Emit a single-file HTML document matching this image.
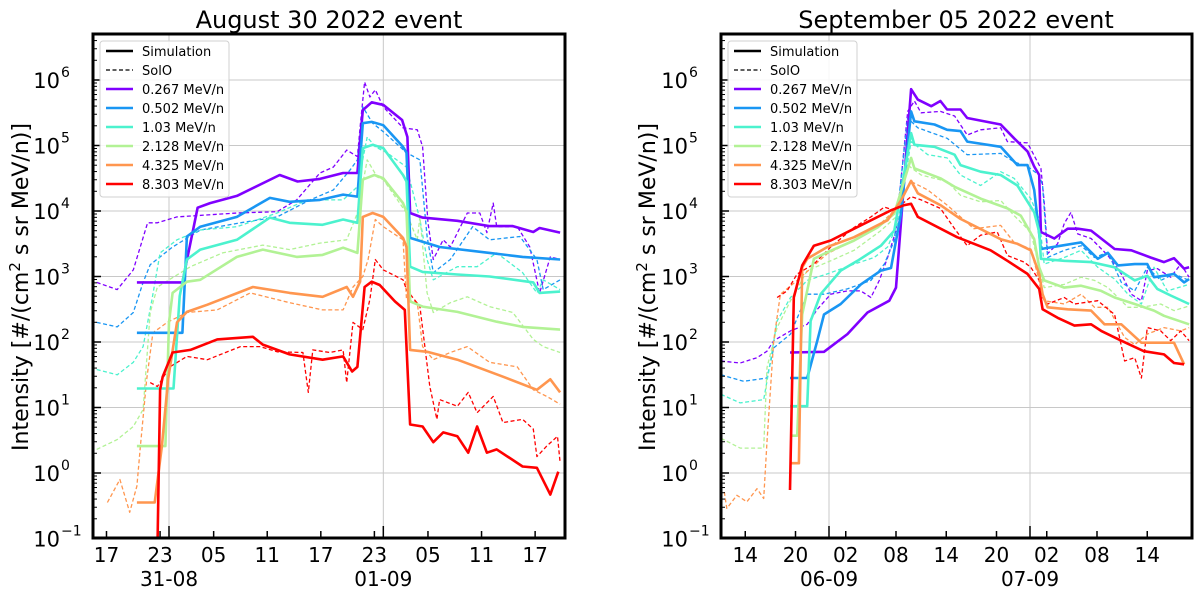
<!DOCTYPE html>
<html><head><meta charset="utf-8"><style>
html,body{margin:0;padding:0;background:#fff;}
svg{display:block;font-family:"DejaVu Sans","Liberation Sans",sans-serif;}
</style></head><body>
<svg id="fig" width="1200" height="599" viewBox="0 0 1200 599" xmlns="http://www.w3.org/2000/svg"></svg>
<script>
// ---------- data (hours relative to 00:00 of first labelled day, log10 intensity) ----------
const energyLabels = ["0.267 MeV/n","0.502 MeV/n","1.03 MeV/n","2.128 MeV/n","4.325 MeV/n","8.303 MeV/n"];
const colors = ["#8000ff","#1996f3","#4cf2ce","#b2f295","#ff964f","#ff0000"];
const yTickExps = [-1,0,1,2,3,4,5,6];
const augTickHours = [-7,-1,5,11,17,23,29,35,41];
const augTickLabels = ["17","23","05","11","17","23","05","11","17"];
const augDayHours = [0,24];
const augDayLabels = ["31-08","01-09"];
const sepTickHours = [-10,-4,2,8,14,20,26,32,38];
const sepTickLabels = ["14","20","02","08","14","20","02","08","14"];
const sepDayHours = [0,24];
const sepDayLabels = ["06-09","07-09"];

// August simulation
const augSim0 = [[-3.6,2.91],[1.5,2.91],[3.2,4.05],[4.6,4.12],[7.6,4.23],[12.4,4.55],[14.4,4.45],[16.9,4.49],[19.5,4.58],[21.1,4.58],[21.7,5.54],[22.7,5.66],[24.0,5.62],[26.1,5.39],[26.7,5.13],[27.0,3.97],[28.4,3.90],[32.3,3.85],[35.9,3.77],[38.5,3.77],[40.8,3.68],[41.5,3.74],[43.8,3.67]];
const augSim1 = [[-3.6,2.14],[1.5,2.14],[2.0,3.61],[3.5,3.76],[7.6,3.91],[11.3,4.20],[13.5,4.14],[16.9,4.17],[19.5,4.25],[21.1,4.22],[21.7,5.34],[22.7,5.36],[24,5.31],[26.2,4.98],[26.6,4.89],[27,3.59],[30.3,3.45],[35.9,3.36],[39.6,3.30],[43.8,3.26]];
const augSim2 = [[-3.6,1.29],[0.5,1.29],[1.2,2.7],[2,3.26],[3.5,3.41],[7.6,3.56],[11.3,3.90],[13.5,3.82],[17.2,3.79],[19.5,3.87],[21.1,3.82],[21.7,4.96],[22.8,5.01],[24,4.96],[26.2,4.55],[26.6,4.45],[27,3.15],[28.4,3.07],[32.3,3.03],[35.9,3.00],[40.8,2.91],[41.5,2.75],[43.8,2.77]];
const augSim3 = [[-3.6,0.41],[-0.4,0.41],[0.0,2.3],[0.4,2.75],[2,2.92],[3.5,2.95],[7.6,3.30],[10.5,3.41],[14.3,3.30],[17.2,3.33],[19.5,3.44],[21.1,3.36],[21.7,4.48],[23,4.55],[24,4.50],[26.2,4.12],[26.6,3.99],[27,2.62],[28.4,2.54],[32.3,2.46],[36.7,2.31],[39.6,2.23],[43.8,2.19]];
const augSim4 = [[-3.6,-0.45],[-1.6,-0.45],[-0.8,0.41],[-0.1,1.43],[0.9,2.30],[2,2.46],[4.3,2.57],[9.4,2.84],[13.5,2.75],[17.2,2.69],[19.9,2.84],[20.6,2.69],[21.4,2.92],[21.7,3.91],[22.8,3.97],[24,3.91],[26.2,3.59],[26.6,3.45],[27,1.88],[28.9,1.85],[32.3,1.73],[37.4,1.47],[41.2,1.27],[42.7,1.43],[43.8,1.23]];
const augSim5 = [[-1.3,-1.2],[-1.0,1.27],[-0.7,1.47],[0.4,1.84],[2.4,1.88],[5.4,2.04],[9.4,2.08],[10.5,1.96],[13.5,1.81],[17.2,1.73],[19.5,1.78],[20.5,1.55],[21.1,1.62],[21.9,2.84],[22.7,2.92],[23.6,2.87],[25.3,2.62],[26.4,2.49],[27,0.74],[28.4,0.71],[29.6,0.47],[30.7,0.62],[32.3,0.56],[33.5,0.31],[34.5,0.71],[35.6,0.31],[36.7,0.36],[39.6,0.10],[41.2,0.08],[42.7,-0.33],[43.6,0.02]];
// August SolO
const augObs0 = [[-8.1,2.91],[-5.8,2.80],[-4.0,3.10],[-2.4,3.82],[-1.3,3.82],[0.9,3.91],[7.6,3.97],[12.1,3.99],[14.3,4.17],[16.9,4.58],[18.4,4.67],[19.9,4.93],[21.1,4.83],[21.4,5.28],[21.9,5.97],[22.5,5.74],[23.1,5.85],[24,5.59],[26.2,5.27],[27.8,5.24],[28.4,4.98],[29,3.82],[29.6,3.26],[30.7,3.56],[31.5,3.45],[33.4,3.97],[34.8,3.97],[35.6,3.67],[36.3,4.12],[36.7,3.76],[39,3.76],[40.4,3.45],[41.5,2.75],[42.7,3.30],[43.8,3.26]];
const augObs1 = [[-8.1,2.30],[-5.8,2.23],[-4,2.45],[-2.9,2.91],[-2.1,3.18],[0.4,3.45],[3.5,3.71],[8,3.82],[12.1,3.91],[15.8,4.17],[18.4,4.32],[20.3,4.63],[21.1,4.78],[21.7,5.59],[22.8,5.34],[24,5.21],[26.6,4.89],[28.1,4.78],[28.9,3.61],[29.6,3.06],[31.5,3.26],[34,3.76],[35.9,3.56],[39.3,3.61],[41.2,3.26],[41.9,2.80],[43.8,2.95]];
const augObs2 = [[-8.1,1.58],[-5.8,1.50],[-4,1.69],[-2.9,1.93],[-1.9,2.65],[-1,3.36],[0.9,3.56],[3.5,3.71],[7.6,3.76],[12.1,3.97],[15.5,4.17],[19.5,4.17],[21.1,4.37],[22.2,5.13],[23.1,4.98],[24.4,4.89],[26.6,4.67],[28.1,3.87],[28.9,3.26],[29.6,2.95],[32.3,3.15],[34.5,3.15],[36.7,3.36],[39.6,3.06],[41.2,2.75],[41.9,2.95],[43.8,2.80]];
const augObs3 = [[-8.1,0.36],[-5.8,0.51],[-4,0.71],[-2.9,0.97],[-2.1,2.45],[-1.3,2.84],[2.4,3.15],[6,3.36],[10.5,3.48],[13.5,3.41],[16.9,3.51],[19.9,3.56],[21.1,3.97],[22.2,4.78],[23.3,4.52],[24,4.48],[26.6,3.97],[27.8,3.56],[28.1,3.91],[28.9,2.75],[29.6,2.45],[31.5,2.60],[33.4,2.69],[35.9,2.54],[38.5,2.45],[40.8,2.04],[41.9,1.93],[43.8,1.84]];
const augObs4 = [[-6.9,-0.45],[-5.5,-0.10],[-4.4,-0.6],[-3.6,-0.2],[-3.2,0.41],[-2.5,1.43],[-1.8,2.14],[-0.2,2.30],[2,2.45],[5.4,2.49],[9.1,2.75],[13.5,2.60],[17.2,2.49],[19.5,2.49],[20.6,2.84],[21.7,3.0],[22.3,3.26],[23.1,3.87],[24,3.76],[26.2,3.56],[26.6,2.65],[27.8,2.60],[28.4,1.93],[29.6,1.73],[31.5,1.84],[33.4,1.93],[35.9,1.69],[39,1.62],[40.8,1.27],[42.3,1.17],[43.8,1.05]];
const augObs5 = [[-2.1,1.38],[-1.3,1.32],[0.1,1.62],[2,1.78],[4.3,1.73],[8,1.93],[10.2,1.93],[12.1,1.85],[15,1.84],[15.6,1.23],[16.1,1.88],[18,1.84],[19.5,1.88],[19.9,1.38],[20.6,2.30],[21.7,2.19],[22.5,2.65],[22.8,2.95],[23.1,3.26],[24,3.10],[26.2,2.95],[26.6,2.80],[28.1,2.54],[29.2,1.32],[30,0.82],[30.3,1.12],[32.3,1.02],[33.5,1.23],[34.5,0.92],[36.3,1.17],[37.4,0.77],[39.6,0.82],[40.8,0.67],[41.2,0.25],[42.3,0.41],[43.5,0.56],[43.8,0.16]];
// September simulation
const sepSim0 = [[-4.66,1.84],[-0.6,1.85],[2.2,2.12],[4.6,2.45],[7.2,2.63],[8,2.83],[9.8,5.86],[10.6,5.70],[12.2,5.60],[13.3,5.68],[14.1,5.55],[15.7,5.55],[16.5,5.42],[20.5,5.32],[22.1,5.11],[23.7,4.91],[24.5,4.68],[25.1,4.55],[25.3,3.68],[26.9,3.58],[28.5,3.73],[29.7,3.73],[31.3,3.70],[34.1,3.42],[36.1,3.40],[38.4,3.29],[40,3.22],[41.2,3.28],[42.4,3.12],[43,3.14]];
const sepSim1 = [[-4.66,1.45],[-2.6,1.45],[-1.4,2.02],[-0.6,2.42],[1.4,2.58],[3.8,2.88],[6.2,3.09],[7.4,3.13],[8.6,3.96],[9.8,5.52],[10.2,5.37],[12.6,5.32],[14.1,5.24],[15.7,5.22],[16.5,5.06],[20.5,4.98],[22.5,4.70],[23.7,4.70],[24.5,4.32],[25.3,3.42],[27.7,3.47],[30.1,3.52],[32.1,3.27],[33.3,3.36],[34.5,3.17],[36.5,3.19],[38,3.19],[38.8,2.99],[40,3.01],[41.2,3.04],[42.4,2.91],[43,2.96]];
const sepSim2 = [[-4.66,1.02],[-2.6,1.02],[-2.2,2.32],[-1,2.73],[1.4,3.09],[3.4,3.24],[6.2,3.47],[7.8,3.70],[9.8,5.19],[10.2,5.01],[12.6,4.98],[15,4.86],[15.7,4.70],[18.1,4.60],[20.5,4.55],[22.5,4.39],[24.5,3.98],[25.1,3.68],[25.3,3.27],[28.1,3.24],[31.3,3.22],[34.1,3.14],[36.5,2.94],[38,3.01],[39.2,2.81],[40.8,2.71],[43,2.58]];
const sepSim3 = [[-4.66,0.57],[-3.8,0.57],[-3.2,2.42],[-1.8,3.27],[-0.2,3.37],[3.0,3.55],[5.8,3.75],[7.8,3.96],[9.8,4.81],[10.2,4.65],[13.3,4.50],[15,4.37],[18.1,4.19],[21.3,4.04],[22.9,3.93],[24.5,3.57],[25.1,3.14],[25.7,2.94],[28.1,2.83],[30.1,2.86],[32.5,2.78],[34.1,2.68],[36.5,2.58],[38.8,2.48],[40,2.40],[43,2.27]];
const sepSim4 = [[-4.66,0.15],[-3.6,0.15],[-3.2,3.14],[-2.6,3.27],[-0.2,3.45],[3.0,3.60],[7,3.86],[8.6,4.16],[9.8,4.46],[10.6,4.27],[13.3,4.09],[15.7,3.88],[20.5,3.57],[22.5,3.50],[24.1,3.40],[25.1,3.04],[25.5,2.73],[26.1,2.53],[28.5,2.50],[31.3,2.48],[32.9,2.27],[34.9,2.27],[37.3,1.99],[41.2,1.99],[42.4,1.66]];
const sepSim5 = [[-4.66,-0.26],[-4.2,2.68],[-3.2,3.17],[-1.8,3.47],[0.2,3.55],[3.0,3.73],[7.4,4.01],[9,4.09],[9.8,4.11],[10.6,3.91],[15.3,3.60],[19.3,3.40],[21.3,3.24],[23.7,3.04],[25.1,2.81],[25.5,2.50],[27.3,2.37],[29.3,2.25],[31.3,2.27],[32.5,2.17],[34.9,2.02],[37.6,1.86],[40,1.81],[41.2,1.68],[42.4,1.66]];
// September SolO
const sepObs0 = [[-12.9,1.71],[-10.6,1.68],[-8.6,1.76],[-7.4,1.86],[-6.6,2.02],[-4.6,2.17],[-2.6,2.27],[-1.4,2.50],[0.2,2.73],[2.2,2.78],[3.8,2.78],[5,2.68],[6,2.94],[7,3.29],[8,3.70],[9.4,5.52],[10.2,5.68],[11,5.50],[13.3,5.52],[15,5.45],[16.5,5.16],[18.1,5.24],[20.5,5.27],[21.3,5.06],[23.7,5.04],[25.3,4.65],[25.7,4.14],[26.1,3.35],[27.3,3.50],[28.1,3.81],[28.9,3.98],[29.7,3.65],[31.3,3.58],[33.3,3.32],[34.9,3.04],[36.1,2.73],[37.3,2.63],[38,3.09],[39.2,3.12],[40.8,2.99],[42,3.19],[43,2.99]];
const sepObs1 = [[-12.9,1.50],[-10.2,1.40],[-7.4,1.45],[-6.6,1.91],[-4.6,2.12],[-2.6,2.73],[-0.6,2.73],[2.2,2.81],[5,2.94],[6.6,3.19],[7.8,3.55],[9.4,5.42],[10.6,5.27],[14.1,5.11],[16.5,4.86],[20.5,4.88],[22.1,4.75],[23.7,4.68],[25.1,4.55],[25.5,4.39],[26.1,3.29],[28.1,3.40],[30.1,3.47],[31.7,3.29],[33.3,3.37],[34.9,2.91],[36.5,2.78],[38,3.14],[39.6,2.94],[41.2,3.04],[43,2.94]];
const sepObs2 = [[-12.9,1.20],[-10.6,1.07],[-7.8,1.12],[-7.2,1.55],[-6.2,2.32],[-4.6,2.68],[-2.6,2.94],[-0.2,3.04],[3,3.19],[5.4,3.29],[7,3.45],[8.2,3.81],[9.8,5.06],[11.8,4.86],[14.1,4.81],[15.7,4.55],[18.1,4.39],[20.5,4.60],[22.1,4.50],[24.1,4.19],[25.1,3.88],[25.7,3.19],[28.1,3.29],[30.1,3.40],[32.1,3.14],[34.1,2.96],[35.7,2.73],[37.3,2.58],[38.8,3.14],[40.4,2.78],[43,2.88]];
const sepObs3 = [[-12.9,0.53],[-10.6,0.38],[-7.8,0.38],[-7.4,1.61],[-6.2,2.22],[-4.6,2.63],[-2.6,3.09],[0.2,3.24],[3,3.40],[6.2,3.70],[8,3.91],[9.4,4.70],[11,4.55],[14.1,4.45],[15.7,4.24],[18.1,4.14],[20.5,4.16],[22.1,3.93],[24.1,3.68],[25.1,3.14],[25.7,2.83],[28.1,2.88],[30.1,2.99],[31.7,2.94],[33.3,2.83],[35.7,2.53],[37.3,2.53],[39.6,2.58],[41.2,2.48],[43,2.55]];
const sepObs4 = [[-12.5,-0.29],[-12.2,-0.54],[-11,-0.34],[-9.8,-0.44],[-8.6,-0.24],[-7.8,-0.39],[-7.4,0.48],[-6.6,2.02],[-5.8,2.73],[-3.8,2.94],[-0.2,3.35],[3,3.55],[6.2,3.81],[8.2,4.06],[9.8,4.45],[11.8,4.32],[14.1,4.09],[17.3,3.73],[20.5,3.78],[22.1,3.52],[24.1,3.42],[25.1,2.94],[25.7,2.63],[28.1,2.58],[30.1,2.73],[31.7,2.53],[33.3,2.53],[35.3,2.07],[36.5,1.96],[38,2.12],[40,2.22],[42,2.17],[43,2.22]];
const sepObs5 = [[-6.2,2.68],[-5,2.78],[-3.8,3.04],[-1.8,3.19],[0.2,3.45],[3,3.75],[5,3.91],[6.6,4.06],[7.8,4.01],[9.8,4.22],[11,4.17],[13.3,4.04],[15,3.73],[16.5,3.47],[18.1,3.63],[20.1,3.68],[21.3,3.32],[23.3,3.22],[24.1,3.14],[25.1,2.94],[25.5,2.68],[26.1,2.58],[28.1,2.68],[29.3,2.58],[32.1,2.63],[34.1,2.42],[35.3,1.71],[36.5,1.76],[37.3,1.45],[38,2.22],[39.6,2.17],[40.8,2.02],[42,2.17],[43,2.02]];

const augSim=[augSim0,augSim1,augSim2,augSim3,augSim4,augSim5];
const augObs=[augObs0,augObs1,augObs2,augObs3,augObs4,augObs5];
const sepSim=[sepSim0,sepSim1,sepSim2,sepSim3,sepSim4,sepSim5];
const sepObs=[sepObs0,sepObs1,sepObs2,sepObs3,sepObs4,sepObs5];

const NS="http://www.w3.org/2000/svg";
const svg=document.getElementById('fig');
function mk(tag,attrs,parent){const e=document.createElementNS(NS,tag);for(const k in attrs)e.setAttribute(k,attrs[k]);(parent||svg).appendChild(e);return e;}

function panel(opt){
  const {key,x0,x1,zeroX,pxPerHour,title,titleX,ylabX,tickH,tickL,dayH,dayL,sims,obs}=opt;
  const yTop=34,yBot=538;
  const xs=h=>zeroX+h*pxPerHour;
  const ys=l=>80-(l-6)*65.5;
  const g=mk('g',{});
  
  
  const cid='clip-'+key;
  const defs=mk('defs',{},g);
  const cp=mk('clipPath',{id:cid},defs);
  mk('rect',{x:x0,y:yTop,width:x1-x0,height:yBot-yTop},cp);
  const grid=mk('g',{},g);
  
  
  yTickExps.forEach(e=>{mk('line',{x1:x0,x2:x1,y1:ys(e),y2:ys(e),stroke:'#c8c8c8','stroke-width':1},grid);});
  dayH.forEach(h=>{mk('line',{x1:xs(h),x2:xs(h),y1:yTop,y2:yBot,stroke:'#c8c8c8','stroke-width':1},grid);});
  const sg=mk('g',{'clip-path':'url(#'+cid+')'},g);
  obs.forEach((s,i)=>{
    const p=mk('polyline',{points:s.map(d=>xs(d[0]).toFixed(1)+','+ys(d[1]).toFixed(1)).join(' '),fill:'none',stroke:colors[i],'stroke-width':1.3,'stroke-dasharray':'4,2.5','stroke-linejoin':'round'},sg);
    
    
  });
  sims.forEach((s,i)=>{
    const p=mk('polyline',{points:s.map(d=>xs(d[0]).toFixed(1)+','+ys(d[1]).toFixed(1)).join(' '),fill:'none',stroke:colors[i],'stroke-width':2.6,'stroke-linejoin':'round'},sg);
    
    
  });
  const yt=mk('g',{},g);
  
  
  yTickExps.forEach(e=>{
    mk('line',{x1:x0,x2:x0+8,y1:ys(e),y2:ys(e),stroke:'#000','stroke-width':1.5},yt);
    for(let m=2;m<=9;m++){const l=e+Math.log10(m);if(ys(l)<yTop)continue;mk('line',{x1:x0,x2:x0+4,y1:ys(l),y2:ys(l),stroke:'#000','stroke-width':1},yt);}
    const t=mk('text',{x:x0-33,y:ys(e)+8,'font-size':21,'text-anchor':'end',fill:'#000'},yt);
    t.textContent='10';
    const sup=mk('text',{x:x0-32,y:ys(e)-3,'font-size':14,'text-anchor':'start',fill:'#000'},yt);
    sup.textContent=(e<0?'\u2212'+(-e):String(e));
  });
  const xt=mk('g',{},g);
  
  
  tickH.forEach((h,i)=>{
    mk('line',{x1:xs(h),x2:xs(h),y1:yBot,y2:yBot-7,stroke:'#000','stroke-width':1.5},xt);
    const t=mk('text',{x:xs(h),y:562,'font-size':20,'text-anchor':'middle',fill:'#000'},xt);
    t.textContent=tickL[i];
  });
  dayH.forEach((h,i)=>{
    mk('line',{x1:xs(h),x2:xs(h),y1:yBot,y2:yBot-12,stroke:'#000','stroke-width':1.5},xt);
    const t=mk('text',{x:xs(h),y:586,'font-size':20,'text-anchor':'middle',fill:'#000'},xt);
    t.textContent=dayL[i];
  });
  const fr=mk('rect',{x:x0,y:yTop,width:x1-x0,height:yBot-yTop,fill:'none',stroke:'#000','stroke-width':3},g);
  
  
  const tt=mk('text',{x:titleX,y:28,'font-size':24,'text-anchor':'middle',fill:'#000'},g);
  tt.textContent=title;
  
  
  const yl=mk('text',{x:0,y:0,'font-size':22,'text-anchor':'middle',fill:'#000',transform:'translate('+ylabX+',287) rotate(-90)'},g);
  
  
  yl.innerHTML='Intensity [#/(cm<tspan dy="-8" font-size="15">2</tspan><tspan dy="8"> s sr MeV/n)]</tspan>';
  const lg=mk('g',{},g);
  
  
  const lx=x0+7;
  mk('rect',{x:lx,y:41,width:129,height:156,rx:3,fill:'#fff','fill-opacity':0.85,stroke:'#d0d0d0','stroke-width':1},lg);
  const entries=[['Simulation','#000',false],['SolO','#000',true]].concat(energyLabels.map((l,i)=>[l,colors[i],false]));
  entries.forEach((en,i)=>{
    const yy=51+i*19;
    const e=mk('g',{},lg);
    
    
    const ln=mk('line',{x1:lx+6,x2:lx+33,y1:yy,y2:yy,stroke:en[1],'stroke-width':en[2]?1.3:2.6},e);
    if(en[2])ln.setAttribute('stroke-dasharray','4,2.5');
    const t=mk('text',{x:lx+42,y:yy+5,'font-size':13,fill:'#000'},e);
    t.textContent=en[0];
  });
}
panel({key:'aug',x0:93,x1:565,zeroX:169,pxPerHour:8.93,title:'August 30 2022 event',titleX:329,ylabX:28,tickH:augTickHours,tickL:augTickLabels,dayH:augDayHours,dayL:augDayLabels,sims:augSim,obs:augObs});
panel({key:'sep',x0:721,x1:1192,zeroX:829,pxPerHour:8.375,title:'September 05 2022 event',titleX:956,ylabX:655,tickH:sepTickHours,tickL:sepTickLabels,dayH:sepDayHours,dayL:sepDayLabels,sims:sepSim,obs:sepObs});
</script>
</body></html>
